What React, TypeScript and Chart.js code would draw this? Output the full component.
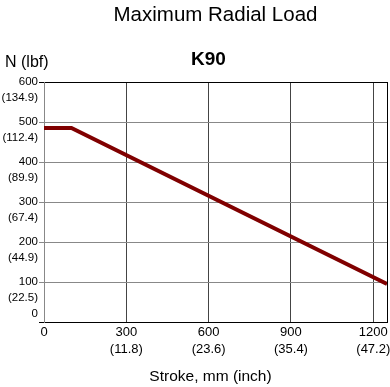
import React, { useEffect, useRef } from "react";
import { Chart, registerables } from "chart.js";

Chart.register(...registerables);

const strokeMm = [0, 100, 1250];
const loadN = [485, 485, 95];

const yTicksN = [0, 100, 200, 300, 400, 500, 600];
const yTicksLbf = ["", "(22.5)", "(44.9)", "(67.4)", "(89.9)", "(112.4)", "(134.9)"];
const xTicksMm = [0, 300, 600, 900, 1200];
const xTicksInch = ["", "(11.8)", "(23.6)", "(35.4)", "(47.2)"];
const xMax = 1250;
const yMax = 600;

const titleText = "Maximum Radial Load";
const subtitleText = "K90";
const yAxisText = "N (lbf)";
const xAxisText = "Stroke, mm (inch)";

const FONT = "'Liberation Sans', Arial, Helvetica, sans-serif";

export default function App() {
  const ref = useRef<HTMLCanvasElement | null>(null);

  useEffect(() => {
    document.body.style.margin = "0";
    const canvas = ref.current;
    if (!canvas) return;

    const textPlugin = {
      id: "texts",
      afterDraw(chart: any) {
        const { ctx, chartArea } = chart;
        ctx.save();
        ctx.fillStyle = "#000";
        ctx.textBaseline = "alphabetic";
        ctx.textAlign = "center";
        ctx.font = `20.5px ${FONT}`;
        ctx.fillText(titleText, (chartArea.left + chartArea.right) / 2, 21);
        ctx.font = `bold 19px ${FONT}`;
        ctx.fillText(subtitleText, (chartArea.left + chartArea.right) / 2 - 7, 65);
        ctx.textAlign = "left";
        ctx.font = `16px ${FONT}`;
        ctx.fillText(yAxisText, 5, 67);
        ctx.textAlign = "center";
        ctx.font = `15.5px ${FONT}`;
        ctx.fillText(xAxisText, (chartArea.left + chartArea.right) / 2 - 5, 381);
        ctx.restore();
      },
    };

    const chart = new Chart(canvas, {
      type: "line",
      data: {
        datasets: [
          {
            data: strokeMm.map((x, i) => ({ x, y: loadN[i] })),
            borderColor: "#800000",
            borderWidth: 4,
            pointRadius: 0,
            fill: false,
            tension: 0,
          },
        ],
      },
      options: {
        animation: false,
        responsive: false,
        maintainAspectRatio: false,
        layout: { padding: { top: 82, right: 3, left: 0, bottom: 0 } },
        plugins: {
          legend: { display: false },
          title: { display: false },
          tooltip: { enabled: false },
        },
        scales: {
          x: {
            type: "linear",
            min: 0,
            max: xMax,
            afterFit: (s: any) => {
              s.height = 65;
            },
            afterBuildTicks: (s: any) => {
              s.ticks = [...xTicksMm, xMax].map((v) => ({ value: v }));
            },
            ticks: {
              padding: 2,
              maxRotation: 0,
              autoSkip: false,
              color: "#000",
              font: { family: FONT, size: 13, lineHeight: 1.3 },
              callback: (v: any) => {
                const i = xTicksMm.indexOf(Number(v));
                if (i < 0) return "";
                return xTicksInch[i] ? [String(xTicksMm[i]), xTicksInch[i]] : String(xTicksMm[i]);
              },
            },
            grid: {
              drawTicks: false,
              lineWidth: 1,
              color: (c: any) => {
                const v = c.tick ? c.tick.value : null;
                if (v === xMax) return "#000";
                if (v === 0) return "#888";
                return "#444";
              },
            },
            border: { display: true, color: "#000", width: 1 },
          },
          y: {
            type: "linear",
            min: 0,
            max: yMax,
            afterFit: (s: any) => {
              s.width = 44;
            },
            afterBuildTicks: (s: any) => {
              s.ticks = yTicksN.map((v) => ({ value: v }));
            },
            ticks: {
              padding: 1,
              autoSkip: false,
              color: "#000",
              font: { family: FONT, size: 11.5, lineHeight: 1.35 },
              callback: (v: any) => {
                const i = yTicksN.indexOf(Number(v));
                if (i < 0) return "";
                if (i === 0) return [String(yTicksN[i]), ""];
                return ["", String(yTicksN[i]), yTicksLbf[i]];
              },
            },
            grid: {
              drawTicks: true,
              tickLength: 5,
              lineWidth: 1,
              color: (c: any) => {
                const v = c.tick ? c.tick.value : null;
                if (v === yMax || v === 0) return "#000";
                return "#888";
              },
            },
            border: { display: true, color: "#888", width: 1 },
          },
        },
      },
      plugins: [textPlugin],
    });

    return () => chart.destroy();
  }, []);

  return (
    <div style={{ width: 390, height: 387 }}>
      <canvas ref={ref} width={390} height={387} style={{ display: "block" }} />
    </div>
  );
}
